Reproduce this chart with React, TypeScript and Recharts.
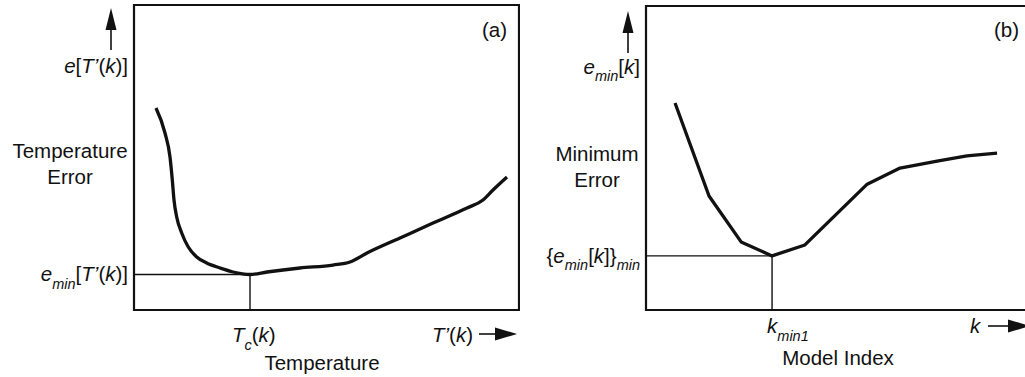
import React from 'react';
import { LineChart, Line, XAxis, YAxis, ReferenceLine, ReferenceArea } from 'recharts';

// Panel (a): temperature error vs temperature (schematic, 0-100 units)
const tempX = [5.71, 8.05, 9.35, 9.95, 10.39, 11.09, 12.39, 14.1, 16.29, 18.88, 22.34, 25.71, 30.13, 34.55, 43.12, 51.69, 56.1, 60.52, 69.09, 77.66, 86.49, 90.65, 93.25, 96.88];
const tempErr = [66.23, 58.03, 50.16, 42.62, 36.07, 30.49, 25.25, 20.66, 17.38, 15.41, 13.77, 12.46, 11.64, 12.46, 13.77, 14.75, 15.74, 18.69, 23.61, 28.52, 33.44, 36.07, 39.34, 43.61];
// Panel (b): minimum error vs model index
const modelK = [7.6, 16.5, 24.9, 33.0, 41.6, 57.9, 66.5, 76.2, 84.0, 91.9];
const minErr = [68.1, 37.5, 22.4, 17.8, 21.4, 41.4, 46.7, 49.0, 50.7, 51.6];

const tempMin = { x: 30.13, y: 11.64 };
const modelMin = { x: 33.0, y: 17.8 };
const yTopTick = 80;

type Seg = { t: string; i?: boolean; s?: boolean };

const yLabelsA: Seg[][] = [
  [{ t: 'e', i: true }, { t: '[' }, { t: 'T’', i: true }, { t: '(' }, { t: 'k', i: true }, { t: ')]' }],
  [{ t: 'e', i: true }, { t: 'min', i: true, s: true }, { t: '[' }, { t: 'T’', i: true }, { t: '(' }, { t: 'k', i: true }, { t: ')]' }],
];
const yLabelsB: Seg[][] = [
  [{ t: 'e', i: true }, { t: 'min', i: true, s: true }, { t: '[' }, { t: 'k', i: true }, { t: ']' }],
  [{ t: '{' }, { t: 'e', i: true }, { t: 'min', i: true, s: true }, { t: '[' }, { t: 'k', i: true }, { t: ']}' }, { t: 'min', i: true, s: true }],
];
const xLabelA: Seg[] = [{ t: 'T', i: true }, { t: 'c', i: true, s: true }, { t: '(' }, { t: 'k', i: true }, { t: ')' }];
const xLabelB: Seg[] = [{ t: 'k', i: true }, { t: 'min1', i: true, s: true }];
const xEndA: Seg[] = [{ t: 'T’', i: true }, { t: '(' }, { t: 'k', i: true }, { t: ')' }];
const xEndB: Seg[] = [{ t: 'k', i: true }];
const yNameA = ['Temperature', 'Error'];
const yNameB = ['Minimum', 'Error'];
const xNameA = 'Temperature';
const xNameB = 'Model Index';

const FONT = '"Liberation Sans", Arial, Helvetica, sans-serif';
const FS = 20.5;
const SUB = 14.5;
const SUBDY = 7.5;
const INK = '#111';

function Rich({ x, y, segs, anchor }: { x: number; y: number; segs: Seg[]; anchor: 'start' | 'middle' | 'end' }) {
  let shifted = false;
  const parts = segs.map((s, k) => {
    let dy = 0;
    if (s.s && !shifted) { dy = SUBDY; shifted = true; }
    else if (!s.s && shifted) { dy = -SUBDY; shifted = false; }
    return (
      <tspan key={k} dy={dy} fontStyle={s.i ? 'italic' : 'normal'} fontSize={s.s ? SUB : FS}>
        {s.t}
      </tspan>
    );
  });
  return (
    <text x={x} y={y} textAnchor={anchor} fontFamily={FONT} fontSize={FS} fill={INK}>
      {parts}
    </text>
  );
}

function UpArrow({ x, top, bottom }: { x: number; top: number; bottom: number }) {
  return (
    <g>
      <line x1={x} y1={top + 20} x2={x} y2={bottom} stroke={INK} strokeWidth={1.6} />
      <polygon points={`${x},${top} ${x - 5.5},${top + 22} ${x + 5.5},${top + 22}`} fill={INK} />
    </g>
  );
}

function RightArrow({ x1, x2, y }: { x1: number; x2: number; y: number }) {
  return (
    <g>
      <line x1={x1} y1={y} x2={x2 - 20} y2={y} stroke={INK} strokeWidth={1.6} />
      <polygon points={`${x2},${y} ${x2 - 22},${y - 6.5} ${x2 - 22},${y + 6.5}`} fill={INK} />
    </g>
  );
}

type PanelCfg = {
  data: { x: number; y: number }[];
  curve: 'monotone' | 'linear';
  min: { x: number; y: number };
  yLabels: Seg[][];
  xLabel: Seg[];
  xEnd: Seg[];
  yName: string[];
  xName: string;
  tag: string;
  width: number;
  yAxisWidth: number;
  marginTop: number;
  marginRight: number;
  yNameCx: number;
  yNameDy: number;
  arrowX: number;
  arrowTop: number;
  arrowBottom: number;
  xLabelDx: number;
  xLabelDy: number;
  xNameDx: number;
  xNameDy: number;
  xEndDx: number;
  xEndDy: number;
  xArrowX1: number;
  xArrowX2: number;
  xArrowDy: number;
  tagDx: number;
  tagDy: number;
};

function Panel(c: PanelCfg) {
  const yTicks = [yTopTick, c.min.y];
  const YTick = (p: any) => {
    const idx = yTicks.indexOf(p.payload.value);
    return <Rich x={p.x - 6} y={p.y + 7} segs={c.yLabels[idx]} anchor="end" />;
  };
  const XTick = (p: any) => <Rich x={p.x + c.xLabelDx} y={p.y + c.xLabelDy} segs={c.xLabel} anchor="start" />;
  const YName = (p: any) => {
    const vb = p.viewBox;
    const cy = vb.y + vb.height / 2;
    return (
      <g>
        <UpArrow x={vb.x + c.arrowX} top={c.arrowTop} bottom={c.arrowBottom} />
        <text x={vb.x + c.yNameCx} y={cy + c.yNameDy} textAnchor="middle" fontFamily={FONT} fontSize={FS} fill={INK}>
          {c.yName[0]}
        </text>
        <text x={vb.x + c.yNameCx} y={cy + c.yNameDy + 26} textAnchor="middle" fontFamily={FONT} fontSize={FS} fill={INK}>
          {c.yName[1]}
        </text>
      </g>
    );
  };
  const XName = (p: any) => {
    const vb = p.viewBox;
    return (
      <g>
        <text x={vb.x + c.xNameDx} y={vb.y + c.xNameDy} textAnchor="middle" fontFamily={FONT} fontSize={FS} fill={INK}>
          {c.xName}
        </text>
        <Rich x={vb.x + c.xEndDx} y={vb.y + c.xEndDy} segs={c.xEnd} anchor="start" />
        <RightArrow x1={vb.x + c.xArrowX1} x2={vb.x + c.xArrowX2} y={vb.y + c.xArrowDy} />
        <text x={vb.x + vb.width + c.tagDx} y={5 + c.tagDy} textAnchor="end" fontFamily={FONT} fontSize={FS} fill={INK}>
          {c.tag}
        </text>
      </g>
    );
  };
  return (
    <LineChart
      width={c.width}
      height={377}
      data={c.data}
      margin={{ top: c.marginTop, right: c.marginRight, bottom: 0, left: 0 }}
      style={{ overflow: 'visible' }}
    >
      <XAxis
        dataKey="x"
        type="number"
        domain={[0, 100]}
        ticks={[c.min.x]}
        height={67}
        axisLine={false}
        tickLine={false}
        tickSize={0}
        tickMargin={0}
        tick={XTick}
        label={XName}
        allowDataOverflow
      />
      <YAxis
        type="number"
        domain={[0, 100]}
        ticks={yTicks}
        width={c.yAxisWidth}
        axisLine={false}
        tickLine={false}
        tickSize={0}
        tickMargin={0}
        tick={YTick}
        label={YName}
        allowDataOverflow
        interval={0}
      />
      <ReferenceArea x1={0} x2={100} y1={0} y2={100} fill="none" stroke={INK} strokeWidth={2.2} fillOpacity={0} />
      <ReferenceLine segment={[{ x: 0, y: c.min.y }, { x: c.min.x, y: c.min.y }]} stroke={INK} strokeWidth={1.4} />
      <ReferenceLine segment={[{ x: c.min.x, y: 0 }, { x: c.min.x, y: c.min.y }]} stroke={INK} strokeWidth={1.4} />
      <Line
        dataKey="y"
        type={c.curve}
        stroke={INK}
        strokeWidth={3.3}
        dot={false}
        activeDot={false}
        isAnimationActive={false}
        strokeLinejoin="round"
        strokeLinecap="butt"
      />
    </LineChart>
  );
}

const dataA = tempX.map((x, i) => ({ x, y: tempErr[i] }));
const dataB = modelK.map((x, i) => ({ x, y: minErr[i] }));

export default function App() {
  return (
    <div
      style={{
        position: 'absolute',
        left: 0,
        top: 0,
        width: 1025,
        height: 377,
        overflow: 'hidden',
        background: '#fff',
        fontFamily: FONT,
      }}
    >
      <div style={{ position: 'absolute', left: 0, top: 0 }}>
        <Panel
          data={dataA}
          curve="monotone"
          min={tempMin}
          yLabels={yLabelsA}
          xLabel={xLabelA}
          xEnd={xEndA}
          yName={yNameA}
          xName={xNameA}
          tag="(a)"
          width={520}
          yAxisWidth={134}
          marginTop={5}
          marginRight={1}
          yNameCx={70}
          yNameDy={0}
          arrowX={111}
          arrowTop={8}
          arrowBottom={50}
          xLabelDx={-18}
          xLabelDy={32}
          xNameDx={188}
          xNameDy={60}
          xEndDx={298}
          xEndDy={32}
          xArrowX1={345}
          xArrowX2={383}
          xArrowDy={24}
          tagDx={-12}
          tagDy={32}
        />
      </div>
      <div style={{ position: 'absolute', left: 520, top: 0 }}>
        <Panel
          data={dataB}
          curve="linear"
          min={modelMin}
          yLabels={yLabelsB}
          xLabel={xLabelB}
          xEnd={xEndB}
          yName={yNameB}
          xName={xNameB}
          tag="(b)"
          width={510}
          yAxisWidth={126}
          marginTop={6}
          marginRight={2}
          yNameCx={77}
          yNameDy={3}
          arrowX={108}
          arrowTop={11}
          arrowBottom={53}
          xLabelDx={-5}
          xLabelDy={23}
          xNameDx={192}
          xNameDy={55}
          xEndDx={324}
          xEndDy={23}
          xArrowX1={342}
          xArrowX2={384}
          xArrowDy={16}
          tagDx={-9}
          tagDy={32}
        />
      </div>
    </div>
  );
}
